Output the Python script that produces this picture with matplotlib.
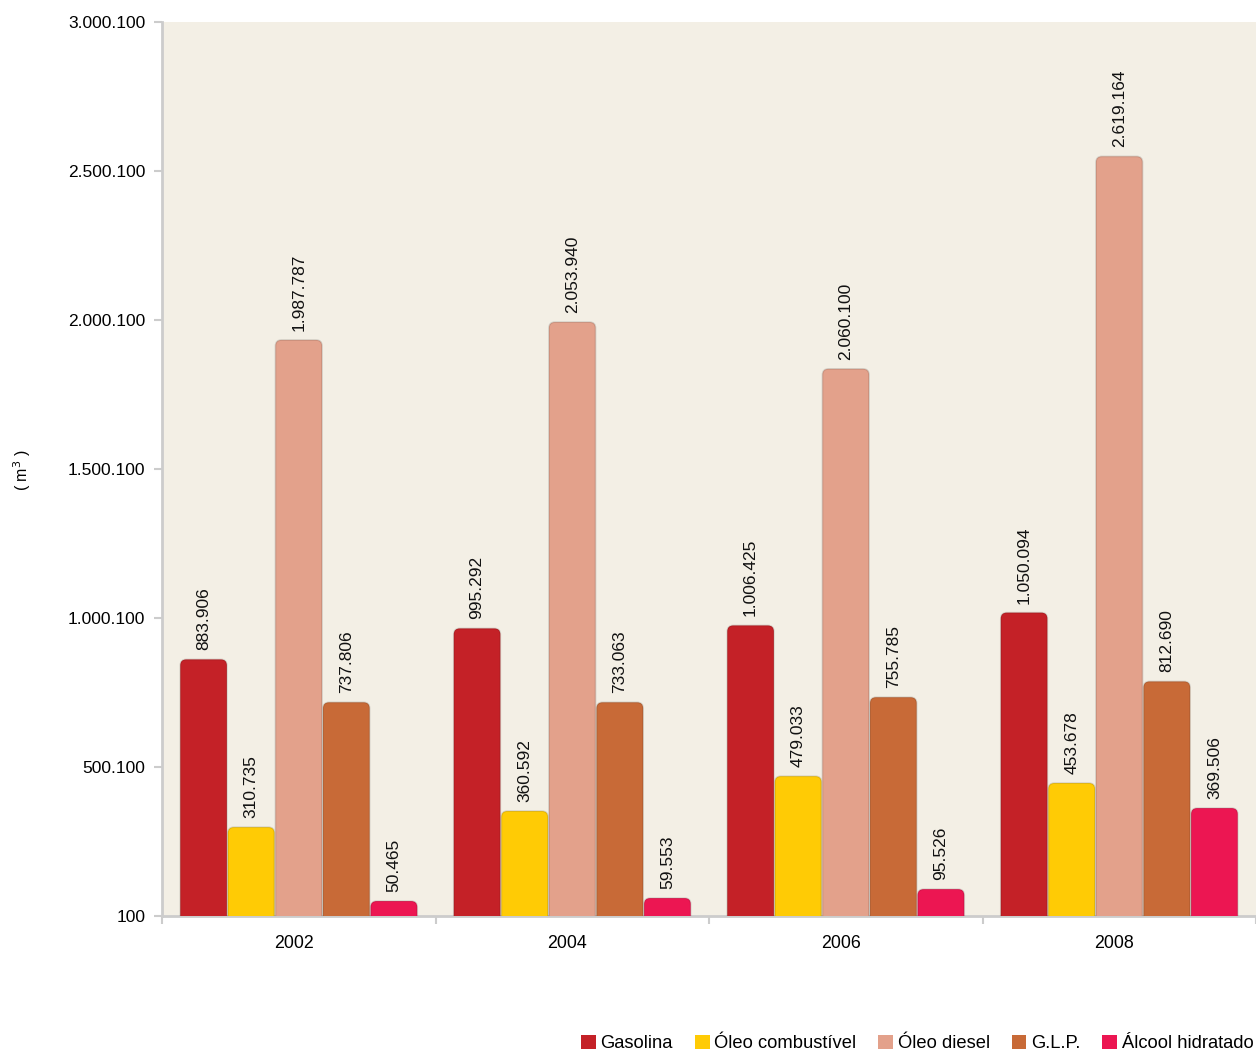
import matplotlib
matplotlib.use("Agg")
import matplotlib.pyplot as plt
import matplotlib.transforms as mtransforms
from matplotlib.patches import FancyBboxPatch, Patch

plt.rcParams['font.family'] = ['Liberation Sans', 'DejaVu Sans']

# dados
anos = ['2002', '2004', '2006', '2008']
produtos = ['Gasolina', 'Óleo combustível', 'Óleo diesel', 'G.L.P.', 'Álcool hidratado']
cores = ['#C42127', '#FFCB05', '#E3A18B', '#C86A37', '#EC1652']

# valores dos rotulos (m3)
gasolina = [883906, 995292, 1006425, 1050094]
oleo_comb = [310735, 360592, 479033, 453678]
diesel = [1987787, 2053940, 2060100, 2619164]
glp = [737806, 733063, 755785, 812690]
alcool = [50465, 59553, 95526, 369506]

# altura das barras como aparecem no grafico
alt_gasolina = [861000, 965000, 975000, 1018000]
alt_oleo_comb = [298000, 352000, 469000, 446000]
alt_diesel = [1933000, 1993000, 1836000, 2549000]
alt_glp = [717000, 717000, 734000, 787000]
alt_alcool = [50000, 60000, 90000, 362000]

rotulos = [gasolina, oleo_comb, diesel, glp, alcool]
alturas = [alt_gasolina, alt_oleo_comb, alt_diesel, alt_glp, alt_alcool]

def fmt(v):
    return f"{v:,}".replace(",", ".")

fig = plt.figure(figsize=(12.56, 10.51), dpi=100)
ax = fig.add_axes([162/1256, 135/1051, 1 - 162/1256, (916-22)/1051])
ax.set_facecolor('#F3EFE5')

ymin, ymax = 100, 3000100
ax.set_xlim(-0.5, 3.5)
ax.set_ylim(ymin, ymax)

larg = 0.174
# aspecto para cantos arredondados
px_x = 1 / 273.5
px_y = (ymax - ymin) / 894
aspect = px_y / px_x
r = 6 * px_x

for j, (alt, rot) in enumerate(zip(alturas, rotulos)):
    for i in range(len(anos)):
        x0 = i - 2.5 * larg + j * larg
        base = ymin - 40 * px_y
        p = FancyBboxPatch((x0 + 0.5*px_x, base), larg - px_x, alt[i] - base + ymin,
                           boxstyle=f"round,pad=0,rounding_size={r}",
                           mutation_aspect=aspect,
                           facecolor=cores[j], edgecolor=matplotlib.colors.to_rgba('black', 0.12),
                           linewidth=1.2, zorder=3)
        p.set_clip_on(True)
        ax.add_patch(p)
        ax.text(x0 + larg/2, alt[i] + ymin + 9 * px_y, fmt(rot[i]), rotation=90,
                ha='center', va='bottom', fontsize=12.5, color='#111111', zorder=4)

ax.set_yticks([ymin + k * 500000 for k in range(7)])
ax.set_yticklabels([fmt(ymin + k * 500000) for k in range(7)], fontsize=12.5)
ax.set_xticks(range(len(anos)))
ax.set_xticklabels(anos, fontsize=12.8)
ax.set_xticks([-0.5, 0.5, 1.5, 2.5, 3.5], minor=True)
ax.tick_params(axis='x', which='major', length=0, pad=14)
ax.tick_params(axis='x', which='minor', length=6, color='#CCCCCC', width=1.5)
ax.tick_params(axis='y', length=6, color='#CCCCCC', width=1.5, pad=6)
desloc = mtransforms.ScaledTranslation(-5/100, 0, fig.dpi_scale_trans)
for lbl in ax.get_xticklabels():
    lbl.set_transform(lbl.get_transform() + desloc)

for s in ['top', 'right']:
    ax.spines[s].set_visible(False)
for s in ['left', 'bottom']:
    ax.spines[s].set_color('#CCCCCC')
    ax.spines[s].set_linewidth(2)

fig.text(22/1256, 1 - 470/1051, '( m$^3$ )', rotation=90, ha='center', va='center', fontsize=11.5)

handles = [Patch(facecolor=c, label=l) for c, l in zip(cores, produtos)]
fig.legend(handles=handles, loc='lower right', bbox_to_anchor=(1.011, -0.017), ncol=5,
           frameon=False, fontsize=13.2, handlelength=0.8, handleheight=0.8,
           handletextpad=0.25, columnspacing=1.2)

fig.savefig('out.png', dpi=100, facecolor='white')
